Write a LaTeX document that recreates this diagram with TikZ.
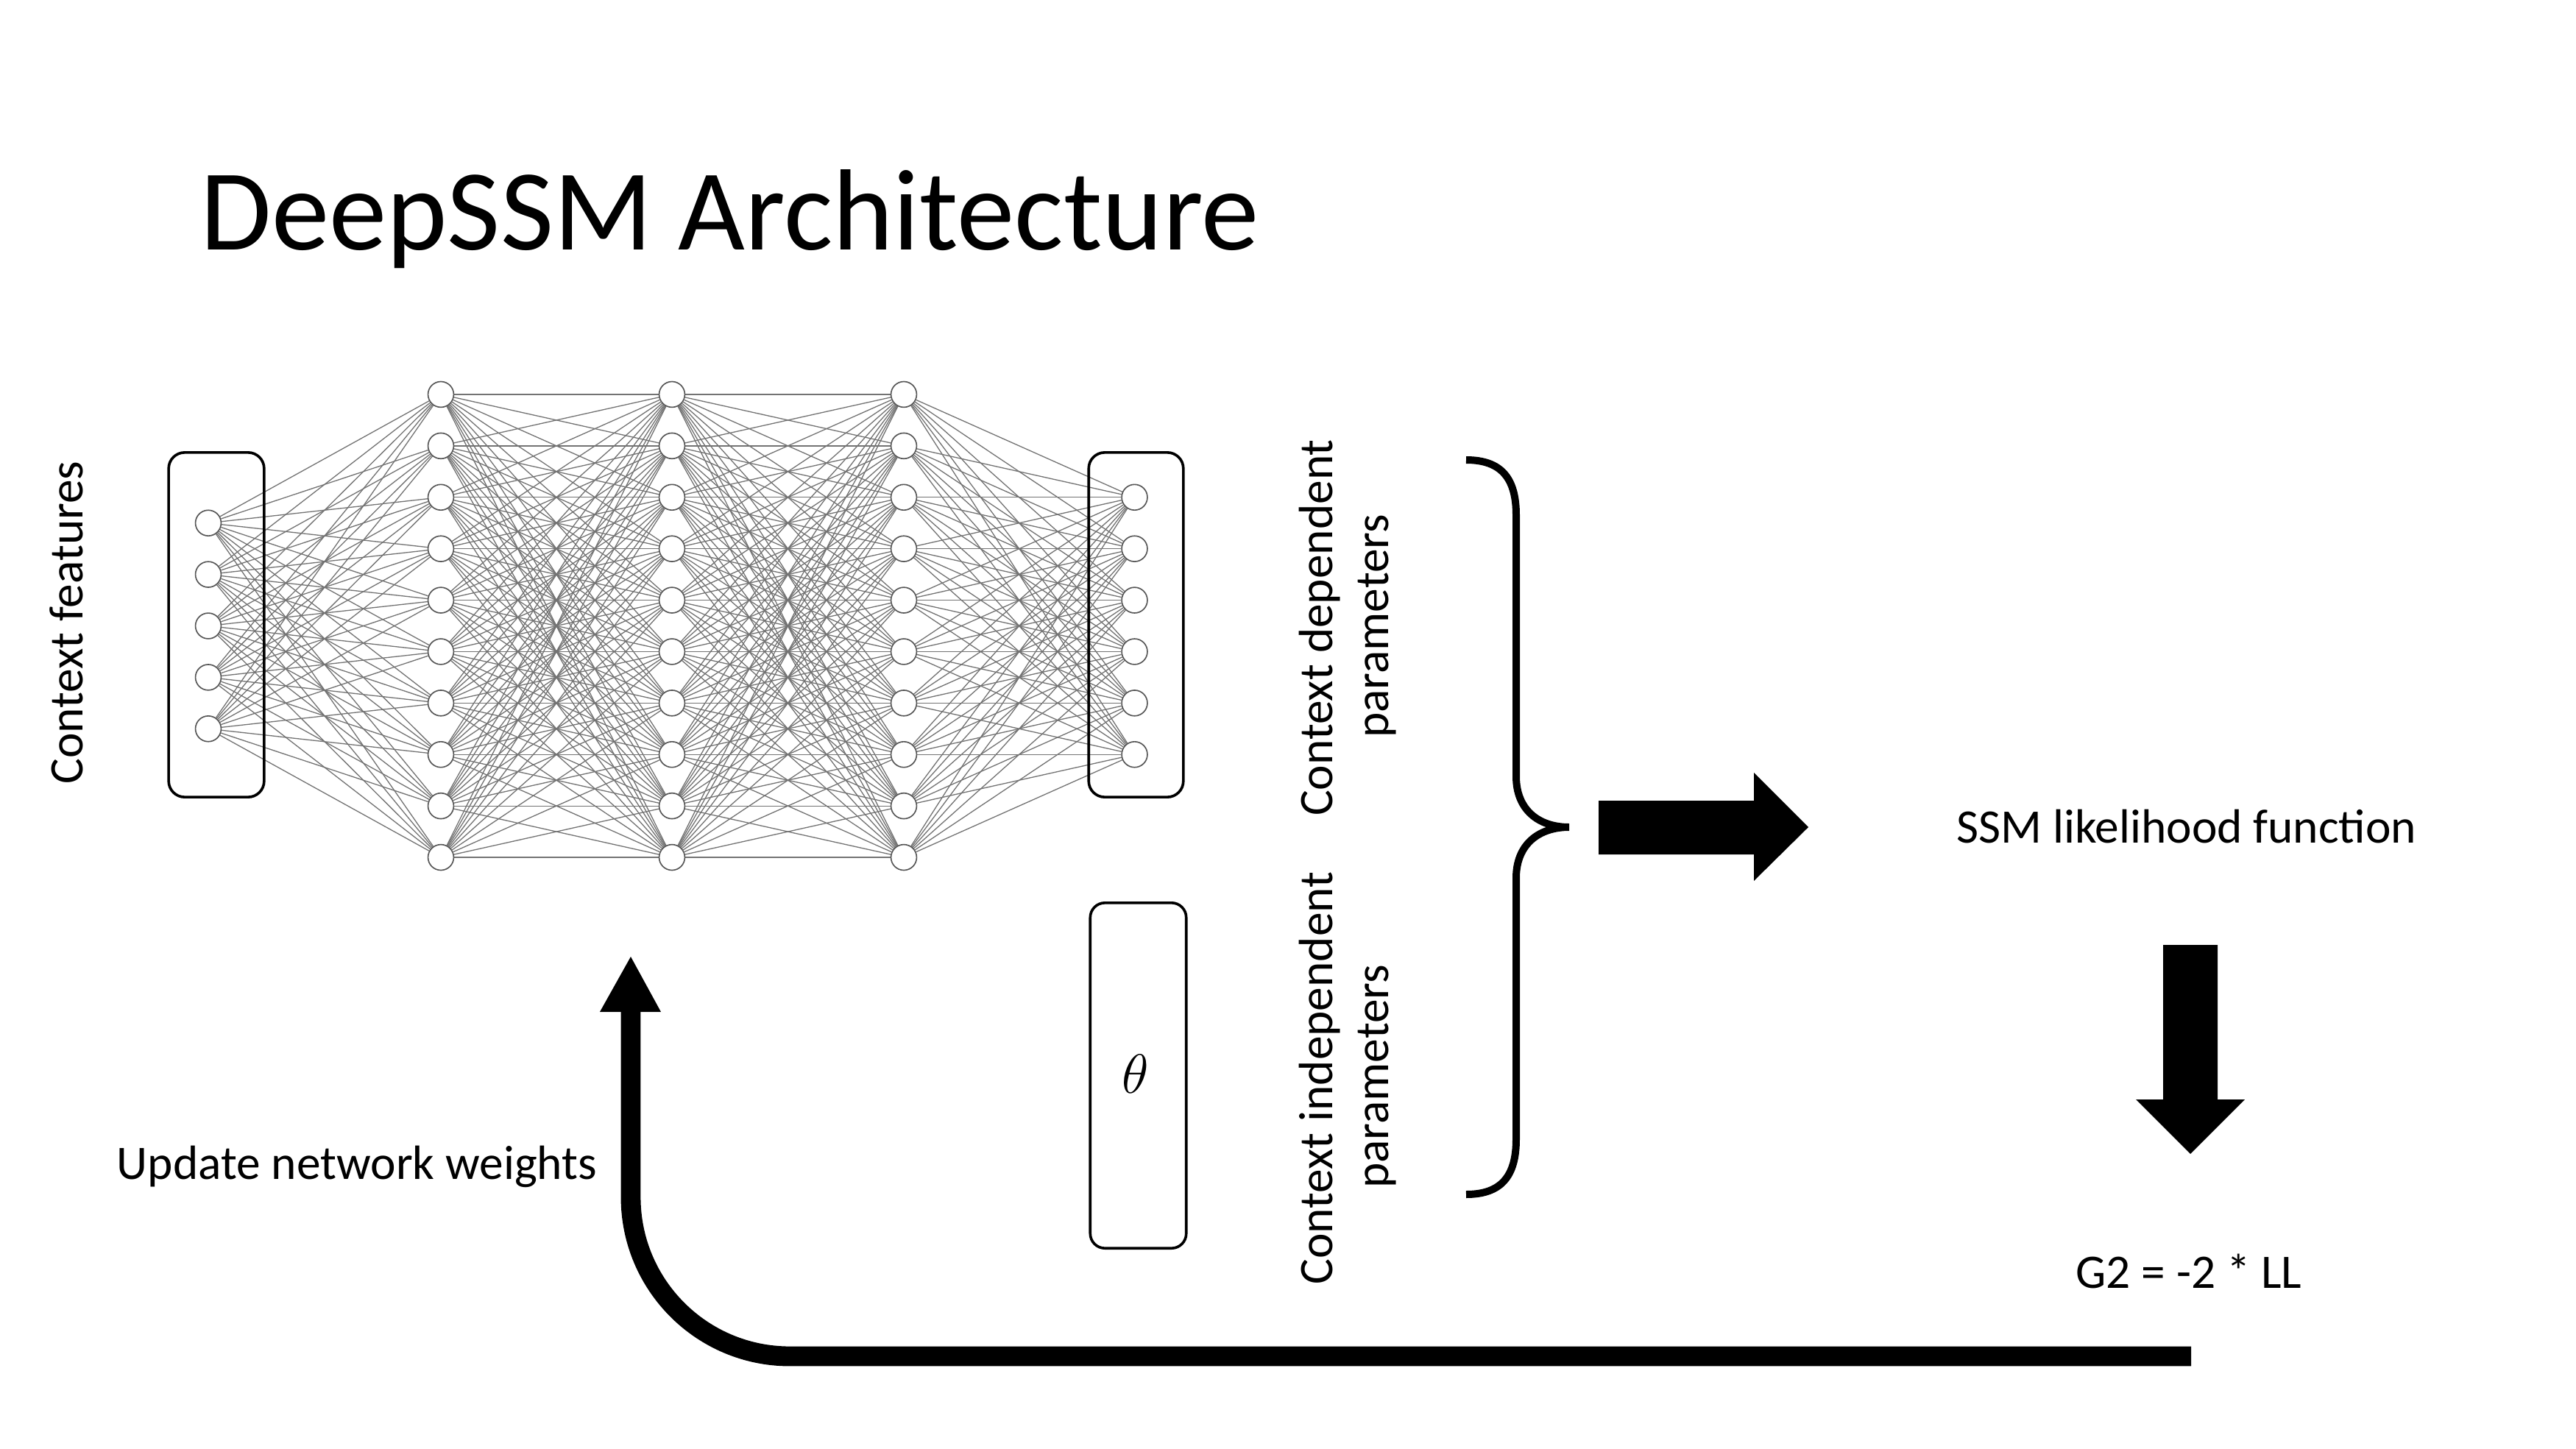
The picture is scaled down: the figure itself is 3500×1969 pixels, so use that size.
\documentclass[tikz,border=0pt]{standalone}
\usepackage{fontspec}
\setmainfont{Carlito}
\pgfdeclarelayer{bg}
\pgfsetlayers{bg,main}
\begin{document}
\begin{tikzpicture}[x=0.0096762cm,y=-0.0096762cm,
  neuron/.style={circle,draw={rgb,255:red,85;green,85;blue,85},line width=0.45pt,fill=white,minimum size=9.6pt,inner sep=0pt},
  link/.style={draw={rgb,255:red,115;green,115;blue,115},line width=0.36pt},
  frame/.style={draw=black,line width=1pt,rounded corners=6pt,inner sep=0pt},
  lbl/.style={font=\fontsize{18}{22}\selectfont,inner sep=0pt},
  fb/.style={line width=7.4pt,rounded corners=2.09cm},
]
\useasboundingbox (0,0) rectangle (3500,1969);

% title
\node[inner sep=0pt,anchor=base west,font=\fontsize{43.2}{52}\selectfont] (title) at (272,339) {DeepSSM Architecture};

% network nodes
\foreach \i in {0,...,4} \node[neuron] (in\i) at (283,{850.5+(\i-2)*69.9}) {};
\foreach \i in {0,...,9} {
  \node[neuron] (ha\i) at (599,{850.5+(\i-4.5)*69.9}) {};
  \node[neuron] (hb\i) at (913,{850.5+(\i-4.5)*69.9}) {};
  \node[neuron] (hc\i) at (1228,{850.5+(\i-4.5)*69.9}) {};
}
\foreach \i in {0,...,5} \node[neuron] (out\i) at (1541.5,{850.5+(\i-2.5)*69.9}) {};

\begin{pgfonlayer}{bg}
\foreach \a in {0,...,4} \foreach \b in {0,...,9} \draw[link] (in\a) -- (ha\b);
\foreach \a in {0,...,9} \foreach \b in {0,...,9} {
  \draw[link] (ha\a) -- (hb\b);
  \draw[link] (hb\a) -- (hc\b);
}
\foreach \a in {0,...,9} \foreach \b in {0,...,5} \draw[link] (hc\a) -- (out\b);
\end{pgfonlayer}

% frames
\node[frame,minimum width=35.7pt,minimum height=128.9pt] (inbox) at (294,849) {};
\node[frame,minimum width=35.4pt,minimum height=128.9pt] (outbox) at (1543.5,849) {};
\node[frame,minimum width=35.9pt,minimum height=129.2pt,rounded corners=5.5pt] (thetabox) at (1546.5,1461.5) {};
\node[inner sep=0pt,font=\fontsize{20}{24}\selectfont] (theta) at (1543,1459) {$\theta$};

% labels
\node[lbl,rotate=90,anchor=base] (cf) at (112,846) {Context features};
\node[lbl,rotate=90,anchor=base] (cd1) at (1810,853) {Context dependent};
\node[lbl,rotate=90,anchor=base] (cd2) at (1886,851) {parameters};
\node[lbl,rotate=90,anchor=base] (ci1) at (1810,1465) {Context independent};
\node[lbl,rotate=90,anchor=base] (ci2) at (1886,1463) {parameters};
\node[lbl,anchor=base] (ssm) at (2971,1145) {SSM likelihood function};
\node[lbl,anchor=base] (g2) at (2974,1750) {G2 = -2 * LL};
\node[lbl,anchor=base] (upd) at (485,1602) {Update network weights};

% brace
\draw[line width=2.75pt] (1992,625) .. controls (2040,625) and (2060,650) .. (2060,700)
  -- (2060,1055) .. controls (2060,1100) and (2090,1124) .. (2132,1124)
  .. controls (2090,1124) and (2060,1148) .. (2060,1193)
  -- (2060,1548) .. controls (2060,1598) and (2040,1623) .. (1992,1623);

% block arrows
\fill (2172,1088) -- (2383,1088) -- (2383,1050) -- (2457,1124) -- (2383,1197) -- (2383,1161) -- (2172,1161) -- cycle;
\fill (2939,1284) -- (3013,1284) -- (3013,1494) -- (3050,1494) -- (2976,1568) -- (2902,1494) -- (2939,1494) -- cycle;

% feedback arrow
\coordinate (fbstart) at (2977,1843);
\coordinate (fbend) at (857,1370);
\draw[fb] (fbstart) -| (fbend);
\fill (815,1375) -- (857,1300) -- (898,1375) -- cycle;
\end{tikzpicture}
\end{document}
